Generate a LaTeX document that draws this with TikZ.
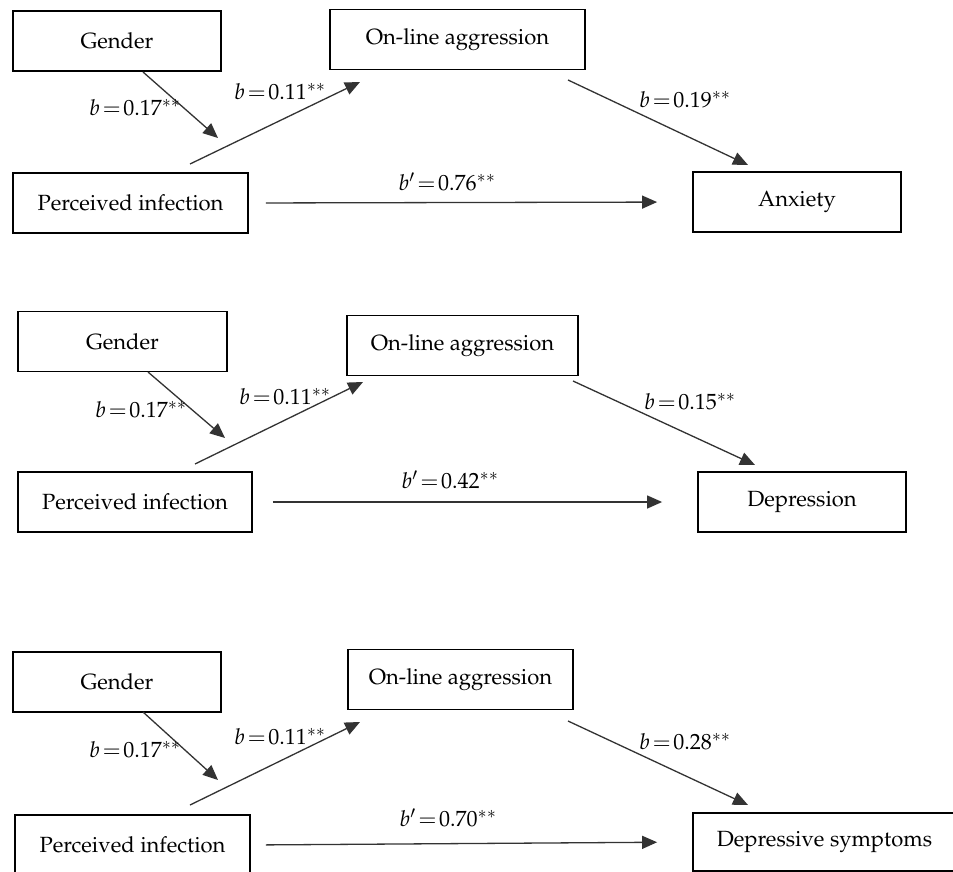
\documentclass[tikz,border=0pt]{standalone}
\usepackage[T1]{fontenc}
\usepackage{mathpazo}
\usetikzlibrary{arrows.meta}
\newcommand{\coef}[2]{$#1\mskip2mu{=}\mskip2mu#2^{**}$}
\tikzset{
  box/.style={draw=black, line width=1.8pt, minimum height=60pt, inner sep=0pt,
    font=\fontsize{22}{26}\selectfont},
  conn/.style={draw=black!80, line width=1.3pt, -{Triangle[length=15pt,width=13pt]}},
  lbl/.style={font=\fontsize{22}{26}\selectfont, inner sep=0pt},
}
\begin{document}
\begin{tikzpicture}[x=1pt,y=-1pt]
\clip (0,0) rectangle (953,872);
\fill[white] (0,0) rectangle (953,872);

% ---------- Panel 1 ----------
\node[box, minimum width=208pt] (g1) at (117,41) {Gender};
\node[box, minimum width=255pt] (oa1) at (457.5,39.5) {On-line aggression};
\node[box, minimum width=235pt] (pi1) at (130.5,203) {Perceived infection};
\node[box, minimum width=208pt] (an1) at (797,202) {Anxiety};
\coordinate (g1o) at (143,72);
\coordinate (m1) at (218,138);
\coordinate (pi1o) at (190,164);
\coordinate (oa1i) at (360,82);
\coordinate (oa1o) at (568,80);
\coordinate (an1i) at (748,165);
\draw[conn] (g1o) -- (m1);
\draw[conn] (pi1o) -- (oa1i);
\draw[conn] (oa1o) -- (an1i);
\draw[conn, shorten <=17pt, shorten >=35pt] (pi1.east) -- (an1.west);
\node[lbl] (l1a) at (135,108) {\coef{b}{0.17}};
\node[lbl] (l1b) at (280,92) {\coef{b}{0.11}};
\node[lbl] (l1c) at (447,182) {\coef{b'}{0.76}};
\node[lbl] (l1d) at (685,100) {\coef{b}{0.19}};

% ---------- Panel 2 ----------
\node[box, minimum width=209pt] (g2) at (122.5,341.5) {Gender};
\node[box, minimum width=231pt] (oa2) at (462.5,345.5) {On-line aggression};
\node[box, minimum width=234pt] (pi2) at (135,502) {Perceived infection};
\node[box, minimum width=208pt] (de2) at (802,502) {Depression};
\coordinate (g2o) at (148,372);
\coordinate (m2) at (225,438);
\coordinate (pi2o) at (195,464);
\coordinate (oa2i) at (363,382);
\coordinate (oa2o) at (573,381);
\coordinate (de2i) at (755,465);
\draw[conn] (g2o) -- (m2);
\draw[conn] (pi2o) -- (oa2i);
\draw[conn] (oa2o) -- (de2i);
\draw[conn, shorten <=20pt, shorten >=35pt] (pi2.east) -- (de2.west);
\node[lbl] (l2a) at (141,410) {\coef{b}{0.17}};
\node[lbl] (l2b) at (285,397) {\coef{b}{0.11}};
\node[lbl] (l2c) at (450,480) {\coef{b'}{0.42}};
\node[lbl] (l2d) at (690,402) {\coef{b}{0.15}};

% ---------- Panel 3 ----------
\node[box, minimum width=208pt] (g3) at (117,682) {Gender};
\node[box, minimum width=225pt] (oa3) at (460.5,679.5) {On-line aggression};
\node[box, minimum width=235pt] (pi3) at (132.5,845) {Perceived infection};
\node[box, minimum width=263pt, minimum height=58pt] (ds3) at (824.5,842) {Depressive symptoms};
\coordinate (g3o) at (143,712);
\coordinate (m3) at (218,780);
\coordinate (pi3o) at (190,805);
\coordinate (oa3i) at (360,722);
\coordinate (oa3o) at (568,721);
\coordinate (ds3i) at (748,805);
\draw[conn] (g3o) -- (m3);
\draw[conn] (pi3o) -- (oa3i);
\draw[conn] (oa3o) -- (ds3i);
\draw[conn, shorten <=15pt, shorten >=35pt] (pi3.east) -- (ds3.west);
\node[lbl] (l3a) at (135,750) {\coef{b}{0.17}};
\node[lbl] (l3b) at (280,737) {\coef{b}{0.11}};
\node[lbl] (l3c) at (448,818) {\coef{b'}{0.70}};
\node[lbl] (l3d) at (685,742) {\coef{b}{0.28}};
\end{tikzpicture}
\end{document}
